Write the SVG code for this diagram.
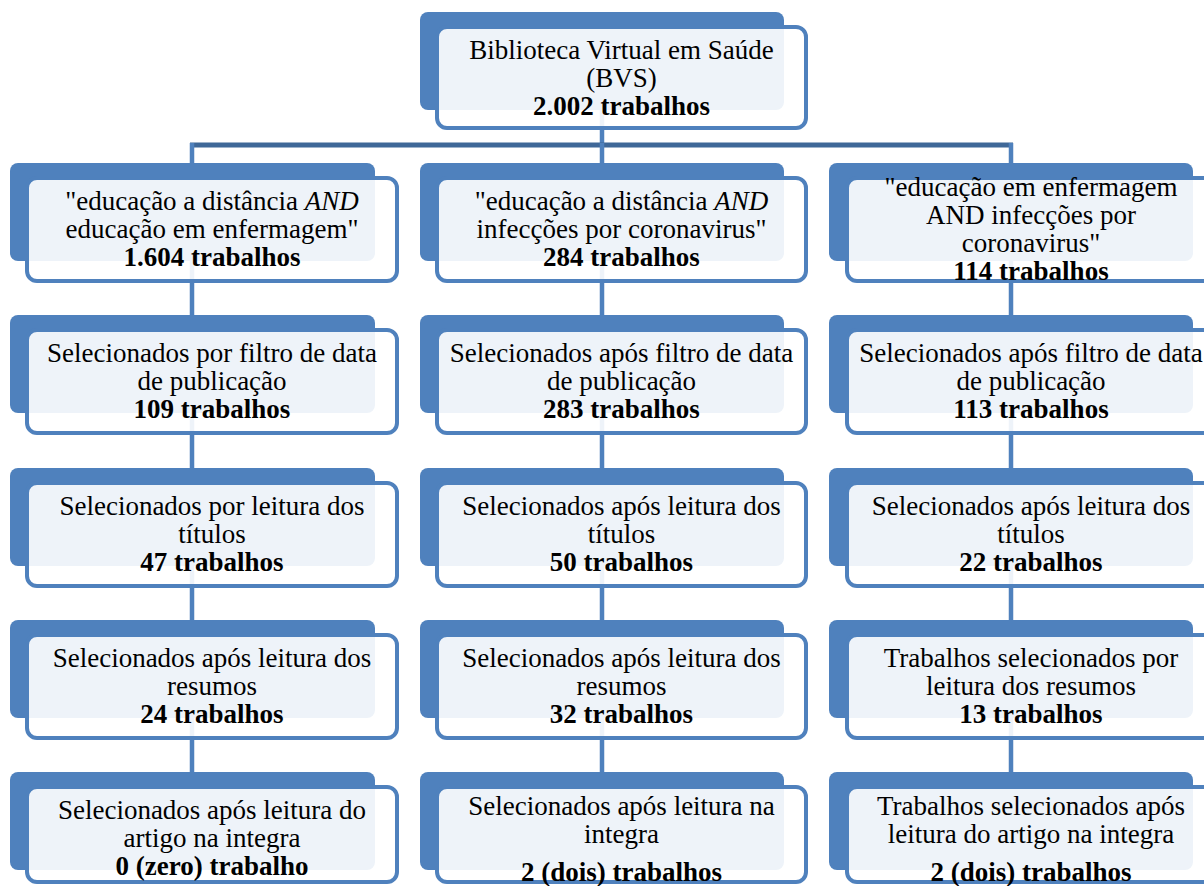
<svg xmlns="http://www.w3.org/2000/svg" width="1204" height="886" viewBox="0 0 1204 886">
<style>
.bg{fill:#ffffff}
.back{fill:#4F81BD}
.front{fill:#ffffff;fill-opacity:0.9;stroke:#4F81BD;stroke-width:4}
.hline{stroke:#3F6898;stroke-width:5;fill:none}
.vline{stroke:#4F81BD;stroke-width:4.5;fill:none}
.b{font-weight:bold}
.i{font-style:italic}
</style>
<rect class="bg" x="0" y="0" width="1204" height="886"/>
<g id="connectors">
<line class="vline" x1="602" y1="105" x2="602" y2="147"/>
<line class="hline" x1="190" y1="145" x2="1013" y2="145"/>
<line class="vline" x1="192" y1="143" x2="192" y2="790"/>
<line class="vline" x1="602" y1="143" x2="602" y2="790"/>
<line class="vline" x1="1011" y1="143" x2="1011" y2="790"/>
</g>
<g id="n0" font-family="Liberation Serif, Times New Roman, serif" font-size="27" text-anchor="middle" fill="#000">
<rect class="back" x="420" y="12" width="364" height="98" rx="8"/>
<rect class="front" x="437" y="27" width="369" height="101" rx="10"/>
<text x="621.5" y="58.5">Biblioteca Virtual em Saúde</text>
<text x="621.5" y="86.5">(BVS)</text>
<text class="b" x="621.5" y="114.5">2.002 trabalhos</text>
</g>
<g id="c1r1" font-family="Liberation Serif, Times New Roman, serif" font-size="27" text-anchor="middle" fill="#000">
<rect class="back" x="10" y="163" width="365" height="98" rx="8"/>
<rect class="front" x="27" y="178" width="370" height="103" rx="10"/>
<text x="212" y="209.5">"educação a distância <tspan class="i">AND</tspan></text>
<text x="212" y="237.5">educação em enfermagem"</text>
<text class="b" x="212" y="265.5">1.604 trabalhos</text>
</g>
<g id="c2r1" font-family="Liberation Serif, Times New Roman, serif" font-size="27" text-anchor="middle" fill="#000">
<rect class="back" x="420" y="163" width="364" height="98" rx="8"/>
<rect class="front" x="437" y="178" width="369" height="103" rx="10"/>
<text x="621.5" y="209.5">"educação a distância <tspan class="i">AND</tspan></text>
<text x="621.5" y="237.5">infecções por coronavirus"</text>
<text class="b" x="621.5" y="265.5">284 trabalhos</text>
</g>
<g id="c3r1" font-family="Liberation Serif, Times New Roman, serif" font-size="27" text-anchor="middle" fill="#000">
<rect class="back" x="829" y="163" width="364" height="98" rx="8"/>
<rect class="front" x="847" y="178" width="370" height="103" rx="10"/>
<text x="1031" y="195.5">"educação em enfermagem</text>
<text x="1031" y="223.5">AND infecções por</text>
<text x="1031" y="251.5">coronavirus"</text>
<text class="b" x="1031" y="279.5">114 trabalhos</text>
</g>
<g id="c1r2" font-family="Liberation Serif, Times New Roman, serif" font-size="27" text-anchor="middle" fill="#000">
<rect class="back" x="10" y="315" width="365" height="98" rx="8"/>
<rect class="front" x="27" y="330" width="370" height="103" rx="10"/>
<text x="212" y="361.5">Selecionados por filtro de data</text>
<text x="212" y="389.5">de publicação</text>
<text class="b" x="212" y="417.5">109 trabalhos</text>
</g>
<g id="c2r2" font-family="Liberation Serif, Times New Roman, serif" font-size="27" text-anchor="middle" fill="#000">
<rect class="back" x="420" y="315" width="364" height="98" rx="8"/>
<rect class="front" x="437" y="330" width="369" height="103" rx="10"/>
<text x="621.5" y="361.5">Selecionados após filtro de data</text>
<text x="621.5" y="389.5">de publicação</text>
<text class="b" x="621.5" y="417.5">283 trabalhos</text>
</g>
<g id="c3r2" font-family="Liberation Serif, Times New Roman, serif" font-size="27" text-anchor="middle" fill="#000">
<rect class="back" x="829" y="315" width="364" height="98" rx="8"/>
<rect class="front" x="847" y="330" width="370" height="103" rx="10"/>
<text x="1031" y="361.5">Selecionados após filtro de data</text>
<text x="1031" y="389.5">de publicação</text>
<text class="b" x="1031" y="417.5">113 trabalhos</text>
</g>
<g id="c1r3" font-family="Liberation Serif, Times New Roman, serif" font-size="27" text-anchor="middle" fill="#000">
<rect class="back" x="10" y="468" width="365" height="98" rx="8"/>
<rect class="front" x="27" y="483" width="370" height="103" rx="10"/>
<text x="212" y="514.5">Selecionados por leitura dos</text>
<text x="212" y="542.5">títulos</text>
<text class="b" x="212" y="570.5">47 trabalhos</text>
</g>
<g id="c2r3" font-family="Liberation Serif, Times New Roman, serif" font-size="27" text-anchor="middle" fill="#000">
<rect class="back" x="420" y="468" width="364" height="98" rx="8"/>
<rect class="front" x="437" y="483" width="369" height="103" rx="10"/>
<text x="621.5" y="514.5">Selecionados após leitura dos</text>
<text x="621.5" y="542.5">títulos</text>
<text class="b" x="621.5" y="570.5">50 trabalhos</text>
</g>
<g id="c3r3" font-family="Liberation Serif, Times New Roman, serif" font-size="27" text-anchor="middle" fill="#000">
<rect class="back" x="829" y="468" width="364" height="98" rx="8"/>
<rect class="front" x="847" y="483" width="370" height="103" rx="10"/>
<text x="1031" y="514.5">Selecionados após leitura dos</text>
<text x="1031" y="542.5">títulos</text>
<text class="b" x="1031" y="570.5">22 trabalhos</text>
</g>
<g id="c1r4" font-family="Liberation Serif, Times New Roman, serif" font-size="27" text-anchor="middle" fill="#000">
<rect class="back" x="10" y="620" width="365" height="98" rx="8"/>
<rect class="front" x="27" y="635" width="370" height="103" rx="10"/>
<text x="212" y="666.5">Selecionados após leitura dos</text>
<text x="212" y="694.5">resumos</text>
<text class="b" x="212" y="722.5">24 trabalhos</text>
</g>
<g id="c2r4" font-family="Liberation Serif, Times New Roman, serif" font-size="27" text-anchor="middle" fill="#000">
<rect class="back" x="420" y="620" width="364" height="98" rx="8"/>
<rect class="front" x="437" y="635" width="369" height="103" rx="10"/>
<text x="621.5" y="666.5">Selecionados após leitura dos</text>
<text x="621.5" y="694.5">resumos</text>
<text class="b" x="621.5" y="722.5">32 trabalhos</text>
</g>
<g id="c3r4" font-family="Liberation Serif, Times New Roman, serif" font-size="27" text-anchor="middle" fill="#000">
<rect class="back" x="829" y="620" width="364" height="98" rx="8"/>
<rect class="front" x="847" y="635" width="370" height="103" rx="10"/>
<text x="1031" y="666.5">Trabalhos selecionados por</text>
<text x="1031" y="694.5">leitura dos resumos</text>
<text class="b" x="1031" y="722.5">13 trabalhos</text>
</g>
<g id="c1r5" font-family="Liberation Serif, Times New Roman, serif" font-size="27" text-anchor="middle" fill="#000">
<rect class="back" x="10" y="772" width="365" height="98" rx="8"/>
<rect class="front" x="27" y="787" width="370" height="95" rx="10"/>
<text x="212" y="818.5">Selecionados após leitura do</text>
<text x="212" y="846.5">artigo na integra</text>
<text class="b" x="212" y="874.5">0 (zero) trabalho</text>
</g>
<g id="c2r5" font-family="Liberation Serif, Times New Roman, serif" font-size="27" text-anchor="middle" fill="#000">
<rect class="back" x="420" y="772" width="364" height="98" rx="8"/>
<rect class="front" x="437" y="787" width="369" height="95" rx="10"/>
<text x="621.5" y="814.5">Selecionados após leitura na</text>
<text x="621.5" y="843">integra</text>
<text class="b" x="621.5" y="880.5">2 (dois) trabalhos</text>
</g>
<g id="c3r5" font-family="Liberation Serif, Times New Roman, serif" font-size="27" text-anchor="middle" fill="#000">
<rect class="back" x="829" y="772" width="364" height="98" rx="8"/>
<rect class="front" x="847" y="787" width="370" height="95" rx="10"/>
<text x="1031" y="814.5">Trabalhos selecionados após</text>
<text x="1031" y="843">leitura do artigo na integra</text>
<text class="b" x="1031" y="880.5">2 (dois) trabalhos</text>
</g>
</svg>
